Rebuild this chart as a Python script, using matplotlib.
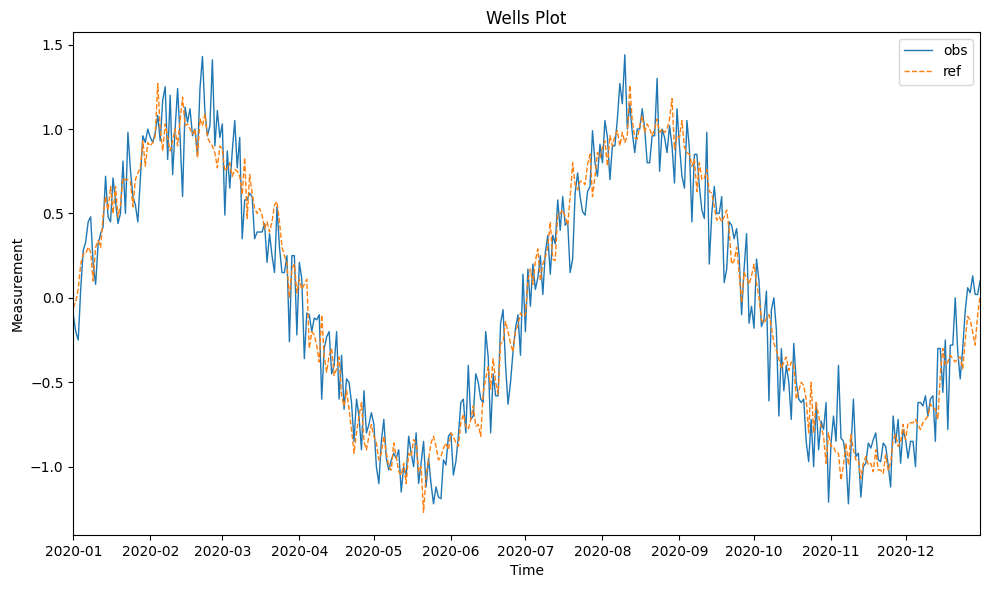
import matplotlib
matplotlib.use("Agg")
import matplotlib.pyplot as plt
import pandas as pd

# daily readings for 2020, one list per month
obs_jan = [-0.1, -0.2, -0.25, 0.05, 0.28, 0.33, 0.45, 0.48, 0.2, 0.08, 0.32, 0.38, 0.42, 0.72, 0.48, 0.45,
           0.71, 0.57, 0.44, 0.5, 0.81, 0.5, 0.98, 0.76, 0.6, 0.55, 0.45, 0.7, 0.96, 0.92, 1.0]
obs_feb = [0.95, 0.92, 0.98, 1.08, 0.93, 1.17, 1.25, 0.82, 1.2, 0.73, 1.0, 1.24, 0.95, 0.6, 1.13, 1.04,
           1.12, 0.96, 1.0, 0.84, 1.24, 1.43, 1.1, 0.96, 1.02, 1.41, 0.9, 1.11, 0.95]
obs_mar = [1.03, 0.49, 0.87, 0.65, 0.87, 1.05, 0.77, 0.95, 0.35, 0.58, 0.58, 0.62, 0.6, 0.35, 0.39, 0.39,
           0.39, 0.44, 0.21, 0.38, 0.25, 0.15, 0.54, 0.3, 0.15, 0.15, 0.25, -0.26, 0.25, 0.25, -0.22]
obs_apr = [0.21, 0.11, -0.36, -0.09, -0.1, -0.2, -0.12, -0.13, -0.1, -0.6, -0.3, -0.23, -0.2, -0.45, -0.4,
           -0.2, -0.6, -0.34, -0.66, -0.48, -0.5, -0.62, -0.85, -0.6, -0.7, -0.9, -0.55, -0.8, -0.75, -0.68]
obs_may = [-0.75, -1.0, -1.1, -0.85, -0.72, -0.95, -1.02, -0.96, -0.92, -0.95, -0.9, -1.15, -1.0, -1.05,
           -0.82, -0.92, -1.0, -0.8, -1.1, -0.98, -0.85, -1.12, -0.95, -1.1, -1.22, -1.12, -1.18, -1.19,
           -0.96, -0.99, -0.82]
obs_jun = [-0.8, -1.05, -0.97, -0.82, -0.62, -0.6, -0.8, -0.4, -0.72, -0.7, -0.45, -0.5, -0.6, -0.62, -0.2,
           -0.35, -0.8, -0.45, -0.58, -0.58, -0.15, -0.07, -0.4, -0.63, -0.5, -0.32, -0.18, -0.1, -0.34, 0.14]
obs_jul = [-0.2, 0.17, -0.05, 0.2, 0.05, 0.12, 0.25, 0.02, 0.27, 0.37, 0.14, 0.37, 0.32, 0.58, 0.4, 0.6,
           0.43, 0.45, 0.15, 0.23, 0.62, 0.74, 0.6, 0.51, 0.49, 0.63, 0.66, 0.99, 0.8, 0.72, 0.91]
obs_aug = [0.8, 1.05, 0.95, 0.7, 0.9, 0.9, 1.06, 1.27, 1.15, 1.44, 1.0, 1.15, 0.98, 0.86, 1.0, 1.0, 1.12,
           1.0, 0.8, 0.8, 0.96, 0.96, 1.3, 0.75, 1.0, 0.95, 0.86, 1.02, 0.9, 0.68, 1.12]
obs_sep = [0.9, 0.72, 0.65, 1.05, 0.88, 0.45, 0.85, 0.85, 0.66, 0.52, 0.47, 0.98, 0.2, 0.5, 0.66, 0.5, 0.5,
           0.6, 0.09, 0.17, 0.45, 0.43, 0.35, 0.41, 0.25, -0.1, 0.17, 0.38, -0.15, -0.05]
obs_oct = [-0.18, 0.23, 0.1, -0.17, -0.13, 0.04, -0.61, -0.07, 0.0, -0.19, -0.7, -0.3, -0.55, -0.4, -0.5,
           -0.72, -0.27, -0.5, -0.6, -0.62, -0.6, -0.85, -0.97, -0.72, -1.0, -0.62, -0.9, -0.73, -0.78,
           -0.62, -1.21]
obs_nov = [-0.86, -0.7, -0.85, -0.4, -0.83, -0.85, -0.95, -1.22, -0.9, -0.6, -0.94, -0.92, -1.18, -1.0,
           -0.98, -0.86, -0.89, -0.84, -0.8, -0.96, -0.97, -0.86, -0.88, -0.99, -1.12, -0.7, -0.86, -0.72,
           -0.98, -0.78]
obs_dec = [-0.84, -0.95, -0.85, -0.85, -1.0, -0.62, -0.62, -0.64, -0.58, -0.7, -0.6, -0.58, -0.85, -0.3,
           -0.3, -0.56, -0.25, -0.78, -0.28, -0.28, 0.0, -0.32, -0.48, -0.3, -0.08, 0.06, 0.03, 0.13, 0.02,
           0.02, 0.1]

ref_jan = [-0.06, -0.02, 0.05, 0.2, 0.26, 0.26, 0.3, 0.27, 0.1, 0.3, 0.34, 0.3, 0.48, 0.6, 0.52, 0.66, 0.5,
           0.66, 0.48, 0.55, 0.71, 0.7, 0.7, 0.69, 0.54, 0.7, 0.74, 0.77, 0.93, 0.78, 0.92]
ref_feb = [0.9, 0.92, 0.96, 1.27, 1.0, 0.87, 1.03, 0.95, 0.87, 0.93, 1.0, 0.9, 1.05, 1.19, 1.02, 1.03, 1.0,
           0.97, 1.0, 0.83, 1.06, 1.02, 1.09, 0.95, 0.92, 0.9, 0.86, 0.77, 0.9]
ref_mar = [0.88, 0.75, 0.77, 0.8, 0.72, 0.76, 0.75, 0.72, 0.61, 0.83, 0.47, 0.73, 0.62, 0.53, 0.5, 0.53,
           0.49, 0.41, 0.45, 0.39, 0.45, 0.55, 0.57, 0.45, 0.3, 0.25, 0.2, 0.0, 0.17, 0.2, 0.03]
ref_apr = [0.11, 0.05, 0.08, 0.11, -0.3, -0.2, -0.22, -0.28, -0.38, -0.1, -0.35, -0.44, -0.34, -0.3, -0.46,
           -0.42, -0.35, -0.58, -0.64, -0.55, -0.66, -0.78, -0.92, -0.8, -0.7, -0.62, -0.85, -0.9, -0.82,
           -0.75]
ref_may = [-0.82, -0.86, -0.96, -0.92, -0.82, -0.92, -1.0, -1.02, -0.86, -0.94, -1.03, -1.05, -0.98, -1.1,
           -0.92, -0.94, -0.84, -0.86, -1.03, -1.0, -1.27, -1.05, -0.96, -0.86, -0.82, -0.88, -0.96, -0.94,
           -0.89, -0.86, -0.9]
ref_jun = [-0.8, -0.82, -0.86, -0.88, -0.74, -0.69, -0.76, -0.78, -0.72, -0.64, -0.76, -0.75, -0.82, -0.56,
           -0.48, -0.41, -0.54, -0.36, -0.5, -0.57, -0.27, -0.26, -0.14, -0.2, -0.27, -0.32, -0.2, -0.16,
           -0.09, -0.11]
ref_jul = [-0.1, 0.1, 0.17, 0.08, 0.22, 0.29, 0.1, 0.2, 0.24, 0.3, 0.45, 0.23, 0.22, 0.5, 0.5, 0.52, 0.48,
           0.43, 0.6, 0.8, 0.67, 0.64, 0.69, 0.69, 0.67, 0.79, 0.85, 0.6, 0.72, 0.86, 0.83]
ref_aug = [0.89, 0.93, 0.78, 0.96, 0.9, 0.96, 0.99, 0.9, 0.98, 0.92, 0.96, 1.26, 1.05, 0.95, 0.94, 1.02,
           1.08, 0.98, 1.03, 1.0, 0.96, 1.0, 1.06, 0.98, 1.0, 0.98, 1.0, 1.06, 1.18, 0.88, 0.96]
ref_sep = [0.95, 1.05, 0.89, 0.86, 0.85, 0.78, 0.82, 0.63, 0.8, 0.7, 0.71, 0.76, 0.63, 0.62, 0.54, 0.46,
           0.48, 0.45, 0.48, 0.52, 0.4, 0.2, 0.22, 0.3, 0.15, -0.03, 0.15, 0.12, 0.08, 0.13]
ref_oct = [0.2, 0.09, 0.0, -0.13, -0.15, -0.12, -0.1, -0.17, -0.27, -0.31, -0.36, -0.42, -0.38, -0.35,
           -0.43, -0.38, -0.39, -0.6, -0.55, -0.5, -0.52, -0.6, -0.8, -0.5, -0.8, -0.62, -0.7, -0.76, -0.82,
           -0.98, -0.8]
ref_nov = [-0.88, -0.88, -0.92, -0.92, -1.08, -0.99, -0.86, -0.99, -0.81, -0.9, -0.96, -0.96, -1.07, -0.98,
           -0.94, -0.99, -0.98, -1.03, -0.9, -1.02, -1.02, -1.04, -0.93, -1.02, -0.98, -0.84, -0.81, -0.88,
           -0.86, -0.75]
ref_dec = [-0.84, -0.74, -0.74, -0.74, -0.72, -0.75, -0.78, -0.74, -0.72, -0.7, -0.63, -0.65, -0.66, -0.72,
           -0.45, -0.3, -0.4, -0.38, -0.34, -0.36, -0.38, -0.36, -0.35, -0.42, -0.25, -0.11, -0.13, -0.2,
           -0.28, -0.1, 0.01]

obs = (obs_jan + obs_feb + obs_mar + obs_apr + obs_may + obs_jun
       + obs_jul + obs_aug + obs_sep + obs_oct + obs_nov + obs_dec)
ref = (ref_jan + ref_feb + ref_mar + ref_apr + ref_may + ref_jun
       + ref_jul + ref_aug + ref_sep + ref_oct + ref_nov + ref_dec)
dates = pd.date_range("2020-01-01", periods=len(obs), freq="D")

fig, ax = plt.subplots(figsize=(9.9, 5.9), dpi=100)
ax.plot(dates, obs, color="#1f77b4", linewidth=1, label="obs")
ax.plot(dates, ref, color="#ff7f0e", linewidth=1, linestyle="--", label="ref")
ax.set_xlim(dates[0], dates[-1])
ax.set_title("Wells Plot")
ax.set_xlabel("Time")
ax.set_ylabel("Measurement")
ax.legend(loc="upper right")

fig.subplots_adjust(left=0.074, right=0.99, top=0.946, bottom=0.093)
plt.savefig("out.png", dpi=100)
plt.close()
